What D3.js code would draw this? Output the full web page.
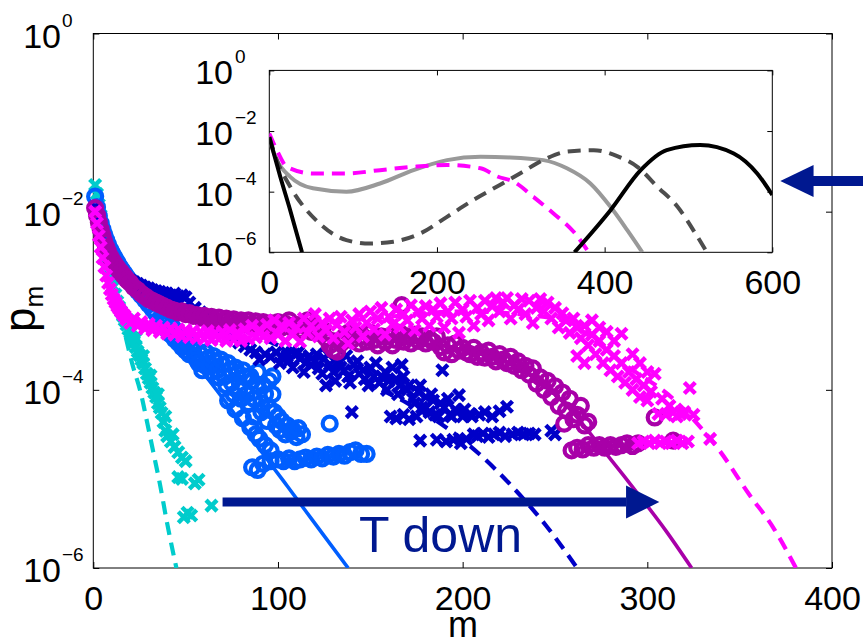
<!DOCTYPE html>
<html><head><meta charset="utf-8">
<script src="https://cdn.jsdelivr.net/npm/d3@7"></script>
<style>
body{margin:0;background:#fff}
svg{display:block}
text{font-family:"Liberation Sans",Arial,Helvetica,sans-serif;fill:#000}
</style></head>
<body>
<script>
// ---------- DATA (m, log10 p_m) ----------
const mainXTicks = [0, 100, 200, 300, 400];
const mainYTicks = [1e-6, 1e-4, 1e-2, 1];
const insetXTicks = [0, 200, 400, 600];
const insetYTicks = [1e-6, 1e-4, 1e-2, 1];

const cyanPts = [[1,-1.70],[2,-1.8],[3,-1.92],[4,-2.04],[5,-2.16],[6,-2.28],[7,-2.4],[8,-2.52],[9,-2.63],[10,-2.74],[11,-2.84],[12,-2.93],[13,-3.01],[14,-3.07],[15,-3.12],[16,-3.17],[17,-3.22],[18,-3.27],[19,-3.32],[20,-3.36],[21,-3.41],[22,-3.46],[23,-3.52],[24,-3.57],[25,-3.61],[26,-3.66],[27,-3.7],[28,-3.76],[29,-3.82],[30,-3.87],[31,-3.92],[32,-3.98],[33,-4.03],[34,-4.08],[35,-4.15],[36,-4.2],[37,-4.26],[38,-4.36],[39,-4.46],[40,-4.52],[42,-4.58],[44,-4.64],[46,-4.7],[48,-4.76],[50,-4.8],[46,-4.98],[48,-5.0],[55,-5.05],[57,-5.01],[49,-5.43],[51,-5.38],[53,-5.41],[64,-5.3],[19,-3.22],[23,-3.42],[27,-3.62],[31,-3.84],[35,-4.05],[39,-4.3],[43,-4.5]];

const bluePts = [[1,-1.83],[2,-1.95],[3,-2.05],[4,-2.13],[5,-2.2],[6,-2.26],[7,-2.32],[8,-2.37],[9,-2.42],[10,-2.46],[11,-2.5],[12,-2.54],[13,-2.57],[14,-2.61],[15,-2.64],[16,-2.67],[17,-2.7],[18,-2.73],[19,-2.76],[20,-2.78],[22,-2.84],[24,-2.89],[26,-2.94],[28,-2.99],[30,-3.04],[32,-3.09],[34,-3.14],[36,-3.2],[38,-3.26],[40,-3.32],[42,-3.38],[44,-3.43],[46,-3.47],[48,-3.52],[50,-3.56],[52,-3.6],[54,-3.55],[56,-3.66],[58,-3.6],[60,-3.72],[62,-3.65],[64,-3.8],[66,-3.68],[68,-3.86],[70,-3.72],[72,-3.95],[73,-4.12],[74,-3.78],[76,-4.05],[77,-4.22],[78,-3.82],[80,-4.1],[81,-4.32],[82,-3.85],[84,-4.15],[85,-4.42],[86,-3.9],[87,-4.3],[88,-4.5],[89,-3.8],[90,-4.55],[91,-4.25],[92,-3.95],[93,-4.62],[94,-4.35],[95,-3.9],[96,-4.68],[97,-4.05],[99,-4.4],[101,-4.45],[104,-4.5],[107,-4.47],[110,-4.53],[113,-4.5],[86,-4.87],[89,-4.9],[92,-4.83],[96,-4.8],[100,-4.78],[103,-4.8],[106,-4.77],[109,-4.8],[112,-4.78],[115,-4.76],[118,-4.78],[121,-4.75],[124,-4.77],[127,-4.73],[130,-4.75],[133,-4.72],[136,-4.74],[139,-4.7],[142,-4.68],[145,-4.72],[148,-4.72],[128,-4.38],
  [38,-3.22],[41,-3.36],[43,-3.3],[45,-3.4],[47,-3.44],[49,-3.5],[51,-3.47],[53,-3.52],[55,-3.62],[57,-3.7],[59,-3.78],[61,-3.58],[63,-3.72],[65,-3.62],[67,-3.78],[69,-3.66],[71,-3.85],[73,-3.7],[75,-3.92],[77,-3.75],[79,-4.0],[81,-3.78],[83,-4.05],[85,-3.85],[87,-4.1],[89,-3.95],[91,-4.15],[93,-4.05],[95,-4.2],[97,-3.85],[98,-4.25],[100,-4.3],[102,-4.35],[105,-4.4],[108,-4.45],[111,-4.43]];

const darkBluePts = [[1,-1.95],[2,-2.05],[4,-2.22],[6,-2.36],[8,-2.47],[10,-2.56],[12,-2.63],[14,-2.68],[16,-2.72],[18,-2.75],[20,-2.77],[22,-2.79],[24,-2.81],[26,-2.83],[28,-2.85],[30,-2.86],[32,-2.88],[34,-2.89],[36,-2.9],[38,-2.91],[40,-2.92],[42,-2.94],[44,-2.92],[46,-2.95],[48,-2.94],[50,-2.96],[52,-3.02],[55,-3.08],[58,-3.13],[61,-3.18],[64,-3.23],[67,-3.28],[70,-3.33],[73,-3.38],[76,-3.43],[79,-3.47],[82,-3.51],[85,-3.55],[88,-3.58],[90,-3.66],[93,-3.6],[96,-3.63],[99,-3.58],[102,-3.63],[104,-3.57],[106,-3.67],[109,-3.6],[112,-3.65],[115,-3.7],[117,-3.62],[120,-3.68],[122,-3.76],[125,-3.65],[126,-3.95],[128,-3.72],[130,-3.8],[133,-3.68],[136,-3.78],[138,-3.85],[140,-4.25],[141,-3.72],[144,-3.82],[147,-3.88],[150,-3.75],[152,-3.85],[155,-3.92],[158,-3.8],[160,-3.9],[161,-4.3],[164,-3.88],[164,-4.32],[166,-3.95],[167,-3.72],[168,-4.28],[170,-4.0],[171,-4.33],[173,-4.1],[175,-4.3],[176,-4.02],[177,-4.57],[178,-4.2],[180,-4.08],[182,-4.25],[184,-4.12],[186,-4.56],[187,-4.3],[189,-3.78],[190,-4.2],[191,-4.58],[193,-4.28],[195,-4.56],[196,-4.22],[198,-4.06],[199,-4.6],[200,-4.3],[202,-4.55],[204,-4.27],[206,-4.5],[208,-4.52],[211,-4.49],[214,-4.53],[217,-4.5],[220,-4.48],[223,-4.52],[224,-4.19],[227,-4.5],[230,-4.48],[233,-4.5],[236,-4.49],[239,-4.5],[248,-4.46],[250,-4.5],
  [101,-3.7],[105,-3.62],[108,-3.75],[111,-3.58],[114,-3.8],[118,-3.72],[121,-3.6],[124,-3.82],[127,-3.6],[131,-3.9],[134,-3.75],[137,-3.62],[139,-3.92],[143,-3.68],[146,-3.78],[149,-3.95],[153,-3.7],[156,-3.85],[159,-4.0],[162,-3.75],[165,-4.05],[168,-3.85],[171,-3.95],[174,-4.15],[177,-3.95],[180,-4.2],[183,-4.05],[185,-4.28],[188,-4.15],[192,-4.1],[194,-4.3],[197,-4.25],[201,-4.22],[205,-4.3],[209,-4.28],[212,-4.25],[216,-4.3],[220,-4.24]];

const purplePts = [[1,-1.96],[2,-2.04],[3,-2.12],[4,-2.2],[5,-2.27],[6,-2.34],[7,-2.4],[8,-2.45],[9,-2.5],[10,-2.54],[11,-2.57],[12,-2.6],[13,-2.63],[14,-2.66],[15,-2.68],[16,-2.71],[17,-2.73],[18,-2.76],[19,-2.78],[20,-2.8],[22,-2.85],[24,-2.88],[26,-2.92],[28,-2.95],[30,-2.98],[32,-3.0],[34,-3.02],[36,-3.04],[38,-3.06],[40,-3.08],[42,-3.1],[44,-3.11],[46,-3.13],[48,-3.12],[50,-3.15],[52,-3.14],[54,-3.17],[56,-3.16],[58,-3.19],[60,-3.17],[62,-3.2],[64,-3.18],[66,-3.22],[68,-3.19],[70,-3.23],[72,-3.2],[74,-3.24],[76,-3.21],[78,-3.25],[80,-3.22],[82,-3.26],[84,-3.22],[86,-3.27],[88,-3.23],[90,-3.28],[92,-3.24],[94,-3.29],[96,-3.25],[98,-3.3],[100,-3.24],[102,-3.3],[104,-3.26],[106,-3.22],[108,-3.31],[110,-3.27],[112,-3.33],[114,-3.28],[116,-3.22],[118,-3.35],[120,-3.3],[122,-3.36],[124,-3.32],[126,-3.42],[128,-3.5],[130,-3.55],[132,-3.57],[134,-3.48],[136,-3.4],[138,-3.36],[140,-3.44],[142,-3.38],[144,-3.48],[146,-3.4],[148,-3.46],[150,-3.36],[152,-3.44],[154,-3.5],[156,-3.4],[158,-3.46],[160,-3.4],[162,-3.5],[164,-3.44],[166,-3.36],[167,-3.05],[168,-3.46],[170,-3.4],[172,-3.48],[174,-3.38],[176,-3.45],[178,-3.4],[180,-3.48],[182,-3.43],[184,-3.46],[186,-3.4],[188,-3.52],[190,-3.58],[192,-3.5],[194,-3.6],[196,-3.48],[198,-3.56],[200,-3.53],[202,-3.58],[204,-3.6],[206,-3.53],[208,-3.63],[210,-3.58],[212,-3.64],[214,-3.56],[216,-3.63],[218,-3.68],[220,-3.6],[222,-3.66],[224,-3.7],[226,-3.63],[228,-3.73],[230,-3.68],[232,-3.78],[234,-3.73],[236,-3.83],[238,-3.76],[240,-3.93],[242,-3.86],[244,-4.0],[246,-3.9],[248,-4.08],[250,-3.96],[252,-4.18],[254,-4.03],[255,-4.38],[256,-4.23],[258,-4.1],[260,-4.33],[262,-4.28],[264,-4.18],[266,-4.4],[268,-4.36],[259,-4.68],[262,-4.65],[265,-4.67],[268,-4.62],[271,-4.65],[274,-4.62],[277,-4.65],[280,-4.62],[283,-4.64],[286,-4.62],[289,-4.6],[292,-4.63],[295,-4.6],[304,-4.31],[314,-4.57]];

const magentaPts = [[1,-2.0],[2,-2.13],[3,-2.27],[4,-2.4],[5,-2.52],[6,-2.62],[7,-2.72],[8,-2.8],[9,-2.87],[10,-2.93],[11,-2.98],[12,-3.02],[13,-3.06],[14,-3.09],[15,-3.12],[16,-3.15],[17,-3.17],[18,-3.21],[20,-3.25],[22,-3.2],[24,-3.28],[26,-3.24],[28,-3.31],[30,-3.26],[32,-3.33],[34,-3.28],[36,-3.35],[38,-3.3],[40,-3.37],[42,-3.31],[44,-3.38],[46,-3.32],[48,-3.4],[50,-3.33],[52,-3.41],[54,-3.34],[56,-3.42],[58,-3.35],[60,-3.43],[62,-3.34],[64,-3.44],[66,-3.36],[68,-3.43],[70,-3.35],[72,-3.45],[74,-3.33],[76,-3.44],[78,-3.36],[80,-3.45],[82,-3.32],[84,-3.43],[86,-3.28],[88,-3.41],[90,-3.33],[92,-3.4],[94,-3.27],[96,-3.42],[98,-3.22],[100,-3.38],[102,-3.28],[104,-3.45],[106,-3.25],[108,-3.38],[110,-3.3],[112,-3.46],[114,-3.2],[116,-3.36],[118,-3.28],[120,-3.15],[122,-3.4],[124,-3.25],[126,-3.33],[128,-3.2],[130,-3.42],[132,-3.27],[134,-3.18],[136,-3.35],[138,-3.48],[140,-3.22],[142,-3.3],[144,-3.15],[146,-3.4],[148,-3.25],[150,-3.12],[152,-3.32],[154,-3.2],[156,-3.08],[158,-3.38],[160,-3.18],[162,-3.27],[164,-3.1],[166,-3.3],[168,-3.15],[170,-3.22],[172,-3.05],[174,-3.33],[176,-3.12],[178,-3.2],[180,-3.06],[182,-3.28],[184,-3.1],[186,-3.18],[188,-3.03],[190,-3.3],[192,-3.12],[194,-3.2],[196,-3.02],[198,-3.36],[200,-3.1],[202,-3.18],[204,-3.0],[206,-3.28],[208,-3.08],[210,-3.15],[212,-3.0],[214,-3.22],[216,-3.06],[218,-2.97],[220,-3.12],[222,-3.02],[224,-2.97],[226,-3.2],[228,-3.05],[230,-3.1],[232,-2.98],[234,-3.15],[236,-3.0],[238,-3.25],[240,-3.08],[242,-2.98],[244,-3.12],[246,-3.02],[248,-3.2],[250,-3.08],[252,-3.3],[254,-3.14],[256,-3.22],[258,-3.36],[260,-3.2],[262,-3.3],[264,-3.42],[266,-3.28],[268,-3.5],[270,-3.38],[272,-3.6],[274,-3.45],[276,-3.7],[278,-3.55],[280,-3.78],[282,-3.62],[284,-3.85],[286,-3.37],[286,-3.7],[288,-3.92],[290,-3.8],[292,-4.0],[294,-3.88],[296,-4.08],[298,-3.95],[300,-4.12],[302,-4.02],[304,-3.82],[306,-4.27],[308,-4.1],[310,-4.28],[312,-4.18],[314,-4.25],[316,-4.3],[318,-4.27],[320,-4.25],[323,-3.98],[325,-4.28],[295,-4.6],[298,-4.58],[301,-4.6],[304,-4.57],[307,-4.6],[310,-4.58],[313,-4.6],[316,-4.57],[319,-4.6],[322,-4.58],[334,-4.55],[262,-3.62],[266,-3.7],[270,-3.22],[274,-3.3],[278,-3.35],[282,-3.45],[292,-3.6],[296,-3.7],[300,-3.8]];

// fitted curves in the main panel
const cyanLine = [[1,-1.8],[5,-2.25],[10,-2.72],[15,-3.18],[21,-3.7],[26,-4.06],[29,-4.35],[32.5,-4.7],[36,-5.05],[40,-5.5],[45,-6.0]];
const blueLine = [[1,-1.9],[10,-2.3],[20,-2.68],[30,-3.0],[40,-3.28],[50,-3.55],[60,-3.82],[70,-4.09],[80,-4.37],[92,-4.72],[105,-5.08],[115,-5.36],[125,-5.64],[138,-6.0]];
const darkBlueLine = [[1,-1.95],[20,-2.78],[50,-3.05],[100,-3.5],[140,-3.85],[170,-4.15],[186,-4.35],[209,-4.72],[227,-5.09],[245,-5.52],[262,-6.0]];
const purpleLine = [[1,-2.0],[20,-2.85],[50,-3.18],[100,-3.3],[150,-3.42],[200,-3.55],[230,-3.75],[255,-4.15],[279,-4.75],[295,-5.17],[310,-5.58],[324,-6.0]];
const magentaLine = [[1,-2.0],[20,-3.2],[50,-3.35],[100,-3.3],[150,-3.2],[200,-3.12],[250,-3.2],[290,-3.75],[315,-4.12],[330,-4.45],[339,-4.68],[355,-5.17],[368,-5.54],[381,-6.02]];

// inset curves
const insetBlackA = [[0,-2.2],[13,-3.5],[25,-4.62],[39,-6.0]];
const insetBlackB = [[364,-6.0],[407,-4.61],[443,-3.29],[474,-2.63],[514,-2.46],[554,-2.74],[582,-3.4],[600,-4.11]];
const insetDarkDash = [[0,-2.2],[9,-2.96],[25,-3.84],[60,-5.05],[92,-5.6],[120,-5.71],[148,-5.65],[180,-5.38],[212,-4.83],[243,-4.28],[275,-3.78],[299,-3.4],[331,-2.9],[355,-2.68],[387,-2.63],[415,-2.83],[439,-3.18],[463,-3.84],[487,-4.5],[507,-5.32],[522,-6.0]];
const insetGray = [[0,-2.3],[9,-2.96],[25,-3.51],[52,-3.89],[92,-4.0],[132,-3.73],[172,-3.29],[212,-2.96],[252,-2.85],[287,-2.87],[327,-2.96],[355,-3.23],[383,-3.73],[407,-4.5],[427,-5.27],[445,-6.0]];
const insetMagenta = [[0,-2.08],[9,-2.63],[21,-3.18],[52,-3.4],[92,-3.4],[132,-3.29],[172,-3.18],[212,-3.12],[252,-3.23],[272,-3.5],[292,-3.68],[315,-4.17],[339,-4.72],[363,-5.32],[381,-6.0]];

// ---------- STYLE ----------
const C = {cyan:'#00cccc', blue:'#005eff', dblue:'#0000c8', purple:'#a800a8', magenta:'#ff00ff', navy:'#001890'};

const W = 863, H = 639;
const svg = d3.select('body').append('svg').attr('width', W).attr('height', H);
const P = v => Math.pow(10, v);

const x = d3.scaleLinear().domain([0, 400]).range([93.3, 832]);
const y = d3.scaleLog().domain([1e-6, 1]).range([568, 33.5]);
const xi = d3.scaleLinear().domain([0, 600]).range([269.3, 772.3]);
const yi = d3.scaleLog().domain([1e-6, 1]).range([252.3, 70.4]);

const defs = svg.append('defs');
defs.append('clipPath').attr('id', 'cm').append('rect')
  .attr('x', x(0)).attr('y', y(1)).attr('width', x(400) - x(0)).attr('height', y(1e-6) - y(1));
defs.append('clipPath').attr('id', 'ci').append('rect')
  .attr('x', xi(0)).attr('y', yi(1)).attr('width', xi(600) - xi(0)).attr('height', yi(1e-6) - yi(1));

svg.append('rect').attr('x', x(0)).attr('y', y(1)).attr('width', x(400) - x(0)).attr('height', y(1e-6) - y(1))
  .attr('fill', 'none').attr('stroke', '#000').attr('stroke-width', 1);

function tickAxes(xs, ys, xt, yt, len, fs, labelGap, tenEnd, supStart) {
  const b = svg.append('g').attr('transform', `translate(0,${ys.range()[0]})`)
    .call(d3.axisBottom(xs).tickValues(xt).tickSize(-len).tickPadding(labelGap).tickFormat(d => d));
  const t = svg.append('g').attr('transform', `translate(0,${ys.range()[1]})`)
    .call(d3.axisTop(xs).tickValues(xt).tickSize(-len).tickFormat(''));
  const l = svg.append('g').attr('transform', `translate(${xs.range()[0]},0)`)
    .call(d3.axisLeft(ys).tickValues(yt).tickSize(-len).tickFormat(''));
  const r = svg.append('g').attr('transform', `translate(${xs.range()[1]},0)`)
    .call(d3.axisRight(ys).tickValues(yt).tickSize(-len).tickFormat(''));
  [b, t, l, r].forEach(g => {
    g.select('.domain').remove();
    g.selectAll('line').attr('stroke', '#000');
  });
  b.selectAll('text').attr('font-size', fs).attr('fill', '#000')
    .attr('font-family', '"Liberation Sans",Arial,sans-serif').attr('dy', 0).attr('y', labelGap);
  yt.forEach(v => {
    const e = Math.round(Math.log10(v));
    const yy = ys(v) + 14;
    svg.append('text').attr('x', tenEnd).attr('y', yy).attr('text-anchor', 'end')
      .attr('font-size', fs).text('10');
    svg.append('text').attr('x', supStart).attr('y', yy - 21).attr('font-size', 19)
      .text(e < 0 ? '\u2212' + (-e) : String(e));
  });
}
tickAxes(x, y, mainXTicks, mainYTicks, 6, 34, 42, 61, 62);

// fitted lines (drawn beneath the markers)
const lineMain = d3.line().x(d => x(d[0])).y(d => y(P(d[1]))).curve(d3.curveMonotoneX);
const gl = svg.append('g').attr('clip-path', 'url(#cm)');
function fit(pts, col, dashed) {
  gl.append('path').attr('d', lineMain(pts)).attr('fill', 'none').attr('stroke', col)
    .attr('stroke-width', dashed ? 4.2 : 3.6).attr('stroke-dasharray', dashed ? '13,8' : null);
}
fit(cyanLine, C.cyan, true);
fit(blueLine, C.blue, false);
fit(darkBlueLine, C.dblue, true);
fit(purpleLine, C.purple, false);
fit(magentaLine, C.magenta, true);

// markers
const gm = svg.append('g');
function crosses(pts, col) {
  const s = 5.5;
  gm.append('g').selectAll('path').data(pts).enter().append('path')
    .attr('d', `M${-s},${-s}L${s},${s}M${-s},${s}L${s},${-s}`)
    .attr('transform', d => `translate(${x(d[0])},${y(P(d[1]))})`)
    .attr('stroke', col).attr('stroke-width', 4.4).attr('fill', 'none');
}
function circles(pts, col) {
  gm.append('g').selectAll('circle').data(pts).enter().append('circle')
    .attr('cx', d => x(d[0])).attr('cy', d => y(P(d[1]))).attr('r', 7)
    .attr('stroke', col).attr('stroke-width', 4.2).attr('fill', 'none');
}
crosses(cyanPts, C.cyan);
circles(bluePts, C.blue);
crosses(darkBluePts, C.dblue);
circles(purplePts, C.purple);
crosses(magentaPts, C.magenta);

// "T down" arrow
const ay = y(P(-5.26));
svg.append('line').attr('x1', x(70)).attr('x2', x(288.5)).attr('y1', ay).attr('y2', ay)
  .attr('stroke', C.navy).attr('stroke-width', 9);
svg.append('path').attr('d', `M${x(306.5)},${ay}L${x(288.5)},${ay - 16.5}L${x(288.5)},${ay + 16.5}Z`).attr('fill', C.navy);
svg.append('text').attr('x', 359).attr('y', 551.5).attr('font-size', 50).style('fill', C.navy).text('T down');

// axis titles
svg.append('text').attr('x', 463).attr('y', 637).attr('text-anchor', 'middle').attr('font-size', 36).text('m');
const yl = svg.append('text').attr('transform', 'translate(35,332) rotate(-90)').attr('font-size', 44);
yl.append('tspan').text('p');
yl.append('tspan').attr('font-size', 26).attr('dy', 8).text('m');

// ---------- INSET ----------
svg.append('rect').attr('x', xi(0)).attr('y', yi(1)).attr('width', xi(600) - xi(0)).attr('height', yi(1e-6) - yi(1))
  .attr('fill', '#fff').attr('stroke', '#000').attr('stroke-width', 1);
tickAxes(xi, yi, insetXTicks, insetYTicks, 5, 34, 42, 233, 235);

const lineIn = d3.line().x(d => xi(d[0])).y(d => yi(P(d[1]))).curve(d3.curveMonotoneX);
const gi = svg.append('g').attr('clip-path', 'url(#ci)');
function inl(pts, col, dashed) {
  gi.append('path').attr('d', lineIn(pts)).attr('fill', 'none').attr('stroke', col)
    .attr('stroke-width', 4).attr('stroke-dasharray', dashed ? '13,8' : null);
}
inl(insetGray, '#999999', false);
inl(insetMagenta, C.magenta, true);
inl(insetDarkDash, '#4d4d4d', true);
inl(insetBlackA, '#000', false);
inl(insetBlackB, '#000', false);

// inset arrow pointing left (to the black curve)
const ry = y(P(-1.657));
svg.append('line').attr('x1', x(389.5)).attr('x2', 870).attr('y1', ry).attr('y2', ry)
  .attr('stroke', C.navy).attr('stroke-width', 10);
svg.append('path').attr('d', `M${x(372)},${ry}L${x(390)},${ry - 16}L${x(390)},${ry + 16}Z`).attr('fill', C.navy);
</script>
</body></html>
